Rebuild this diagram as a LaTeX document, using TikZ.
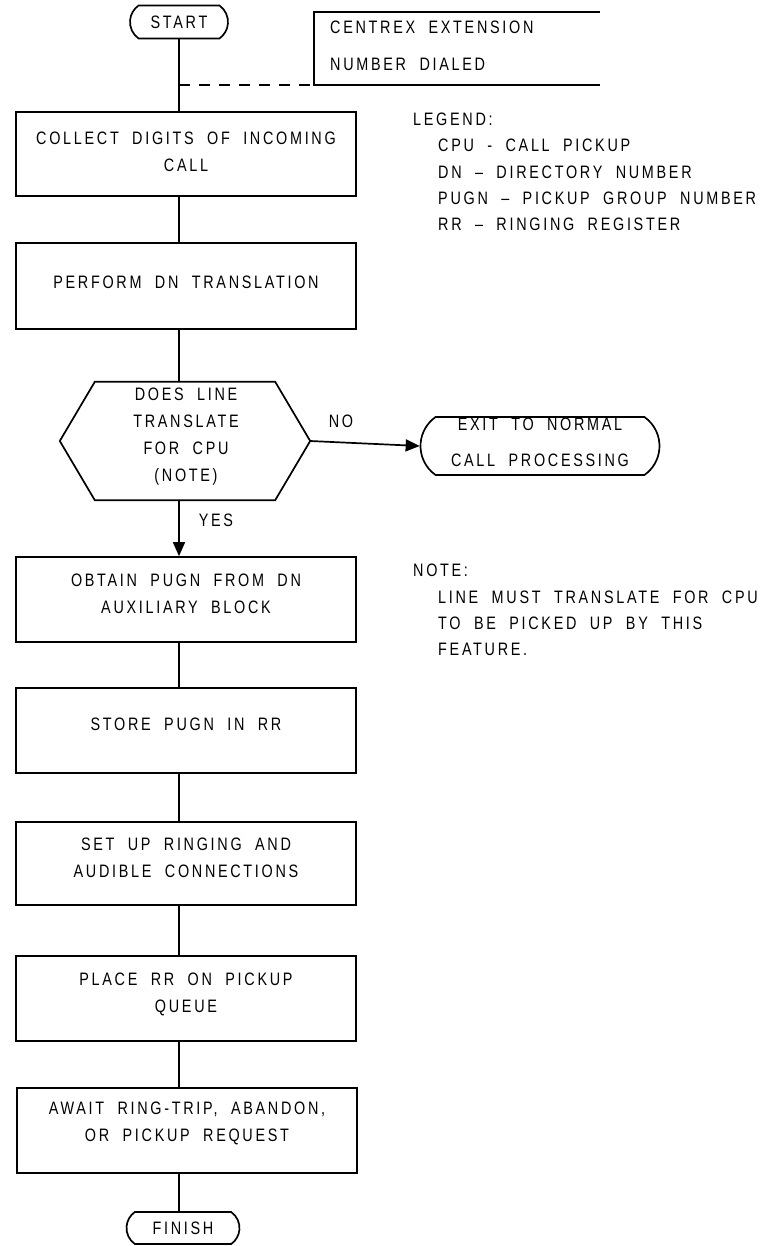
\documentclass[tikz,border=0pt]{standalone}
\usepackage{fontspec}
\setmainfont{Liberation Sans}[FakeStretch=0.8, LetterSpace=15, WordSpace=2]
\usetikzlibrary{shapes.misc,arrows.meta}
\begin{document}
\begin{tikzpicture}[x=1pt,y=-1pt,
  every node/.style={font=\fontsize{18}{27}\selectfont, inner sep=0pt},
  term/.style={draw, line width=1.7pt, rounded rectangle, rounded rectangle arc length=110, align=center},
  proc/.style={draw, line width=1.7pt, rectangle, minimum width=340pt, minimum height=85pt, align=center, text depth=12pt},
  flow/.style={line width=1.7pt},
  arr/.style={flow, -{Triangle[length=14pt,width=12pt]}},
  note/.style={align=left, anchor=west}
]
\useasboundingbox (0,0) rectangle (764,1246);

% terminals
\node[term, minimum width=98pt, minimum height=33pt] (st) at (179,22) {START};
\node[term, minimum width=113pt, minimum height=32pt] (fin) at (183,1228) {FINISH};
\node[term, minimum width=239pt, minimum height=58pt, text depth=8pt, font=\fontsize{18}{36}\selectfont] (ex) at (540,446) {EXIT TO NORMAL\\CALL PROCESSING};

% process boxes
\node[proc, minimum height=84pt, text depth=4pt] (b1) at (186,154) {COLLECT DIGITS OF INCOMING\\CALL};
\node[proc, minimum height=86pt, text depth=8pt] (b2) at (186,286) {PERFORM DN TRANSLATION};
\node[proc] (b3) at (186,599.5) {OBTAIN PUGN FROM DN\\AUXILIARY BLOCK};
\node[proc] (b4) at (186,730.5) {STORE PUGN IN RR};
\node[proc, minimum height=83pt] (b5) at (186,863.5) {SET UP RINGING AND\\AUDIBLE CONNECTIONS};
\node[proc] (b6) at (186,998.5) {PLACE RR ON PICKUP\\QUEUE};
\node[proc, text depth=18pt] (b7) at (187,1130.5) {AWAIT RING-TRIP, ABANDON,\\OR PICKUP REQUEST};

% decision
\node[minimum width=180pt, minimum height=118pt] (dec) at (185,441) {};
\coordinate (decE) at ([xshift=35pt]dec.east);
\coordinate (decW) at ([xshift=-35pt]dec.west);
\draw[flow] (dec.north west) -- (dec.north east) -- (decE) -- (dec.south east) -- (dec.south west) -- (decW) -- cycle;
\node[align=center] (dect) at (186,437) {DOES LINE\\TRANSLATE\\FOR CPU\\(NOTE)};

% annotation
\node[minimum width=286pt, minimum height=73pt] (ann) at (457,48.5) {};
\node[note, font=\fontsize{18}{37}\selectfont] (annt) at (330,46) {CENTREX EXTENSION\\NUMBER DIALED};
\draw[flow] (ann.north east) -- (ann.north west) -- (ann.south west) -- (ann.south east);
\draw[flow, dash pattern=on 11pt off 9pt] (st |- ann.south) -- (ann.south west);

% labels
\node (no) at (341,421) {NO};
\node (yes) at (216,520) {YES};

% legend and note
\node[note, font=\fontsize{18}{26.2}\selectfont] (leg) at (413,172) {LEGEND:\\
\hspace*{25pt}CPU - CALL PICKUP\\
\hspace*{25pt}DN -- DIRECTORY NUMBER\\
\hspace*{25pt}PUGN -- PICKUP GROUP NUMBER\\
\hspace*{25pt}RR -- RINGING REGISTER};
\node[note, font=\fontsize{18}{26.3}\selectfont] (nt) at (413,610) {NOTE:\\
\hspace*{25pt}LINE MUST TRANSLATE FOR CPU\\
\hspace*{25pt}TO BE PICKED UP BY THIS\\
\hspace*{25pt}FEATURE.};

% connectors
\draw[flow] (st.south) -- (b1.north -| st);
\draw[flow] (b1.south -| st) -- (b2.north -| st);
\draw[flow] (b2.south -| st) -- (dec.north -| st);
\draw[arr] (decE) -- (ex.west);
\draw[arr] (dec.south -| st) -- (b3.north -| st);
\draw[flow] (b3.south -| st) -- (b4.north -| st);
\draw[flow] (b4.south -| st) -- (b5.north -| st);
\draw[flow] (b5.south -| st) -- (b6.north -| st);
\draw[flow] (b6.south -| st) -- (b7.north -| st);
\draw[flow] (b7.south -| st) -- (fin.north -| st);
\end{tikzpicture}
\end{document}
